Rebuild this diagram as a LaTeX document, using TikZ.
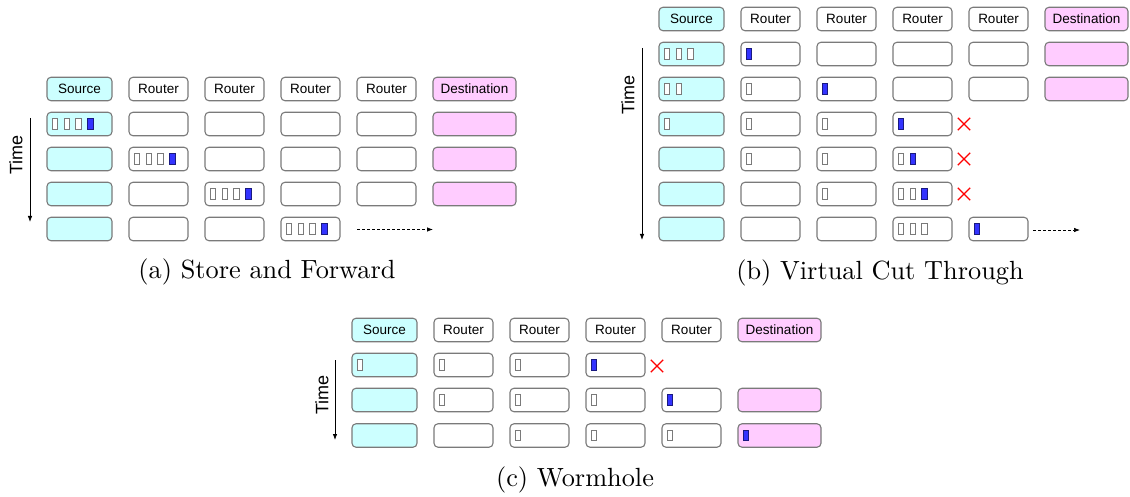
\documentclass[tikz,border=0pt]{standalone}
\usepackage{fontspec}
\newfontfamily\lsans{Liberation Sans}
\newfontfamily\capfont{lmroman10-regular}[Extension=.otf]
\usetikzlibrary{arrows.meta,shapes.misc}
\definecolor{srcfill}{HTML}{CCFFFF}
\definecolor{dstfill}{HTML}{FFCCFF}
\definecolor{boxline}{HTML}{7A7A7A}
\definecolor{pktblue}{HTML}{3333FF}
\definecolor{pktline}{HTML}{1A1A80}
\tikzset{
  cell/.style={draw=boxline, line width=1.1pt, rounded corners=4pt, minimum height=23.5pt, inner sep=0pt, font=\lsans\fontsize{13.5}{16}\selectfont},
  srccell/.style={cell, fill=srcfill, minimum width=65pt},
  rtrcell/.style={cell, fill=white, minimum width=59pt},
  dstcell/.style={cell, fill=dstfill, minimum width=83pt},
  flit/.style={draw=boxline, fill=white, line width=0.9pt, minimum width=5.5pt, minimum height=10.5pt, inner sep=0pt},
  headflit/.style={flit, draw=pktline, fill=pktblue},
  timearrow/.style={-{Latex[length=6pt,width=4.5pt]}, line width=0.8pt},
  moveon/.style={-{Latex[length=6pt,width=4.5pt]}, dash pattern=on 3pt off 2pt, line width=0.7pt},
  block/.style={cross out, draw=red, line width=1.3pt, minimum size=11pt, inner sep=0pt},
  timelabel/.style={rotate=90, font=\lsans\fontsize{18}{20}\selectfont},
  captext/.style={font=\capfont\fontsize{26.3}{30}\selectfont},
}
\newcommand\hdr[2]{%
  \node[srccell] (#1-0) at (79.5,#2) {Source};
  \node[rtrcell] (#1-1) at (158.5,#2) {Router};
  \node[rtrcell] (#1-2) at (234.5,#2) {Router};
  \node[rtrcell] (#1-3) at (310.5,#2) {Router};
  \node[rtrcell] (#1-4) at (386.5,#2) {Router};
  \node[dstcell] (#1-5) at (474.5,#2) {Destination};}
\newcommand\lcells[2]{%
  \node[srccell] (#1-0) at (79.5,#2) {};
  \node[rtrcell] (#1-1) at (158.5,#2) {};
  \node[rtrcell] (#1-2) at (234.5,#2) {};
  \node[rtrcell] (#1-3) at (310.5,#2) {};}
\newcommand\rfour[2]{\node[rtrcell] (#1-4) at (386.5,#2) {};}
\newcommand\dcell[2]{\node[dstcell] (#1-5) at (474.5,#2) {};}
\newcommand\flitH[2]{\node[flit] (#1-f#2) at ([xshift={8.5pt+11.75pt*#2}]#1.west) {};}
\newcommand\flitB[2]{\node[headflit] (#1-f#2) at ([xshift={8.5pt+11.75pt*#2}]#1.west) {};}
\begin{document}
\begin{tikzpicture}[x=1pt,y=-1pt]
\useasboundingbox (0,0) rectangle (1130,497);
% ---------------- (a) Store and Forward
\begin{scope}
  \hdr{ah}{89}
  \lcells{a1}{124}\rfour{a1}{124}\dcell{a1}{124}
  \lcells{a2}{159}\rfour{a2}{159}\dcell{a2}{159}
  \lcells{a3}{194}\rfour{a3}{194}\dcell{a3}{194}
  \lcells{a4}{229}
  \flitH{a1-0}{0}\flitH{a1-0}{1}\flitH{a1-0}{2}\flitB{a1-0}{3}
  \flitH{a2-1}{0}\flitH{a2-1}{1}\flitH{a2-1}{2}\flitB{a2-1}{3}
  \flitH{a3-2}{0}\flitH{a3-2}{1}\flitH{a3-2}{2}\flitB{a3-2}{3}
  \flitH{a4-3}{0}\flitH{a4-3}{1}\flitH{a4-3}{2}\flitB{a4-3}{3}
  \coordinate (a-m0) at (357,229.5);
  \coordinate (a-m1) at (433,229.5);
  \draw[moveon] (a-m0) -- (a-m1);
  \coordinate (a-t0) at (30,118);
  \coordinate (a-t1) at (30,222);
  \draw[timearrow] (a-t0) -- (a-t1);
  \node[timelabel] (a-time) at (16,155) {Time};
\end{scope}
% ---------------- (b) Virtual Cut Through
\begin{scope}[shift={(612,-70)}]
  \hdr{bh}{89}
  \lcells{b1}{124}\rfour{b1}{124}\dcell{b1}{124}
  \lcells{b2}{159}\rfour{b2}{159}\dcell{b2}{159}
  \lcells{b3}{194}
  \lcells{b4}{229}
  \lcells{b5}{264}
  \lcells{b6}{299}\rfour{b6}{299}
  \flitH{b1-0}{0}\flitH{b1-0}{1}\flitH{b1-0}{2}\flitB{b1-1}{0}
  \flitH{b2-0}{0}\flitH{b2-0}{1}\flitH{b2-1}{0}\flitB{b2-2}{0}
  \flitH{b3-0}{0}\flitH{b3-1}{0}\flitH{b3-2}{0}\flitB{b3-3}{0}
  \flitH{b4-1}{0}\flitH{b4-2}{0}\flitH{b4-3}{0}\flitB{b4-3}{1}
  \flitH{b5-2}{0}\flitH{b5-3}{0}\flitH{b5-3}{1}\flitB{b5-3}{2}
  \flitH{b6-3}{0}\flitH{b6-3}{1}\flitH{b6-3}{2}\flitB{b6-4}{0}
  \node[block] (b3-x) at (352,194) {};
  \node[block] (b4-x) at (352,229) {};
  \node[block] (b5-x) at (352,264) {};
  \coordinate (b-m0) at (421,300);
  \coordinate (b-m1) at (468,300);
  \draw[moveon] (b-m0) -- (b-m1);
  \coordinate (b-t0) at (30,118);
  \coordinate (b-t1) at (30,310);
  \draw[timearrow] (b-t0) -- (b-t1);
  \node[timelabel] (b-time) at (16,165) {Time};
\end{scope}
% ---------------- (c) Wormhole
\begin{scope}[shift={(305,241)}]
  \hdr{ch}{89}
  \lcells{c1}{124}
  \lcells{c2}{159}\rfour{c2}{159}\dcell{c2}{159}
  \lcells{c3}{194.5}\rfour{c3}{194.5}\dcell{c3}{194.5}
  \flitH{c1-0}{0}\flitH{c1-1}{0}\flitH{c1-2}{0}\flitB{c1-3}{0}
  \flitH{c2-1}{0}\flitH{c2-2}{0}\flitH{c2-3}{0}\flitB{c2-4}{0}
  \flitH{c3-2}{0}\flitH{c3-3}{0}\flitH{c3-4}{0}\flitB{c3-5}{0}
  \node[block] (c1-x) at (352,125) {};
  \coordinate (c-t0) at (30,119);
  \coordinate (c-t1) at (30,199);
  \draw[timearrow] (c-t0) -- (c-t1);
  \node[timelabel] (c-time) at (17,154) {Time};
\end{scope}
% ---------------- captions
\node[captext] (cap-a) at (267,272) {(a) Store and Forward};
\node[captext] (cap-b) at (880,273) {(b) Virtual Cut Through};
\node[captext] (cap-c) at (575,480) {(c) Wormhole};
\end{tikzpicture}
\end{document}
